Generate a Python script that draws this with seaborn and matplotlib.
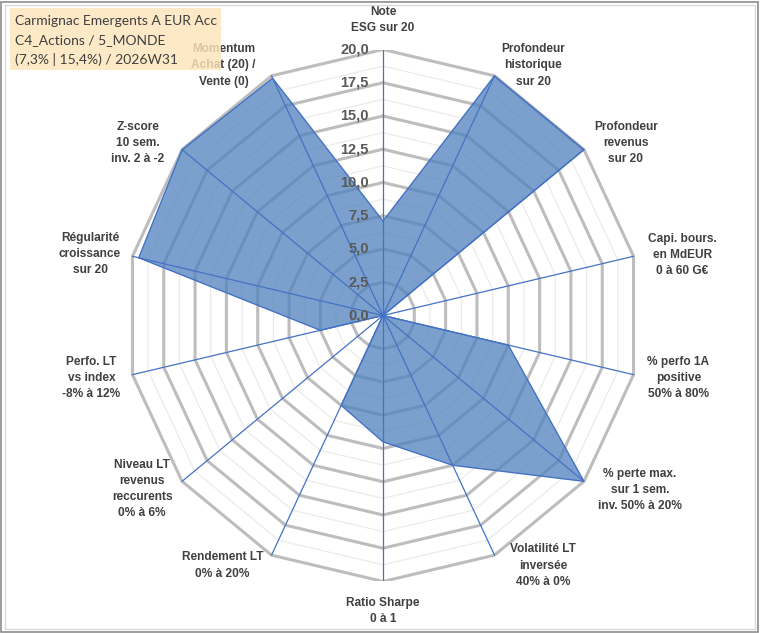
import numpy as np
import pandas as pd
import seaborn as sns
import matplotlib
matplotlib.use("Agg")
import matplotlib.pyplot as plt
from matplotlib.patches import Rectangle

# ---------------- data ----------------
categories = [
    "Note\nESG sur 20",
    "Profondeur\nhistorique\nsur 20",
    "Profondeur\nrevenus\nsur 20",
    "Capi. bours.\nen MdEUR\n0 à 60 G€",
    "% perfo 1A\npositive\n50% à 80%",
    "% perte max.\nsur 1 sem.\ninv. 50% à 20%",
    "Volatilité LT\ninversée\n40% à 0%",
    "Ratio Sharpe\n0 à 1",
    "Rendement LT\n0% à 20%",
    "Niveau LT\nrevenus\nreccurents\n0% à 6%",
    "Perfo. LT\nvs index\n-8% à 12%",
    "Régularité\ncroissance\nsur 20",
    "Z-score\n10 sem.\ninv. 2 à -2",
    "Momentum\nAchat (20) /\nVente (0)",
]
scores = [7.1, 20, 20, 0, 10, 20, 12.5, 9.5, 7.5, 0, 5, 19.5, 20, 19.8]
tick_values = [0, 2.5, 5, 7.5, 10, 12.5, 15, 17.5, 20]
tick_labels = ["0,0", "2,5", "5,0", "7,5", "10,0", "12,5", "15,0", "17,5", "20,0"]
minor_values = [1.25, 3.75, 6.25, 8.75, 11.25, 13.75, 16.25, 18.75]
title_lines = ["Carmignac Emergents A EUR Acc", "C4_Actions / 5_MONDE", "(7,3% | 15,4%) / 2026W31"]

# label centres (data units) for each category
label_pos = [(0, 22.2), (11.7, 18.8), (18.9, 13.0), (23.3, 4.55), (23.0, -4.7),
             (20.0, -13.1), (12.45, -18.8), (0, -22.2), (-12.5, -18.8), (-18.75, -13.05),
             (-22.7, -4.7), (-22.8, 4.6), (-19.1, 13.0), (-12.4, 18.8)]

n = len(categories)
theta = np.arange(n) * 2 * np.pi / n

def xy(r):
    r = np.asarray(r, dtype=float)
    return r * np.sin(theta), r * np.cos(theta)

sns.set_theme(style="white")
plt.rcParams['font.family'] = ['Liberation Sans', 'DejaVu Sans']

fig = plt.figure(figsize=(7.6, 6.33), dpi=100)
ax = fig.add_axes([0.1658, 0.0814, 0.6763, 0.8404])
ax.set_xlim(-20, 20)
ax.set_ylim(-20, 20)
ax.axis("off")

# minor rings
for v in minor_values:
    x, y = xy([v] * n)
    ax.plot(np.append(x, x[0]), np.append(y, y[0]), color="#EBEBEB", lw=0.9, zorder=1)
# major rings
for v in tick_values[1:]:
    x, y = xy([v] * n)
    ax.plot(np.append(x, x[0]), np.append(y, y[0]), color="#BDBDBD", lw=2.2, zorder=2,
            solid_joinstyle="miter")

# data polygon
x, y = xy(scores)
df = pd.DataFrame({"x": np.append(x, x[0]), "y": np.append(y, y[0]), "k": np.arange(n + 1)})
ax.fill(df["x"], df["y"], color="#4F81BD", alpha=0.75, lw=0, zorder=3)
sns.lineplot(data=df, x="x", y="y", sort=False, estimator=None, color="#4472C4", lw=1.0,
             ax=ax, zorder=4)
ax.set_xlim(-20, 20)
ax.set_ylim(-20, 20)
ax.axis("off")

# spokes
xo, yo = xy([20] * n)
for i in range(n):
    ax.plot([0, xo[i]], [0, yo[i]], color="#4472C4", lw=0.9, zorder=5)

# radial tick labels
for v, t in zip(tick_values, tick_labels):
    ax.text(-1.1, v, t, ha="right", va="center", fontsize=10.5, fontweight="bold",
            color="#595959", zorder=6)

# category labels
for lab, (lx, ly) in zip(categories, label_pos):
    ax.text(lx, ly, lab, ha="center", va="center", fontsize=8.6, fontweight="bold",
            color="#404040", linespacing=1.45, clip_on=False, zorder=6)

# title box (semi-transparent, drawn on top)
fig.patches.append(Rectangle((10 / 760, 1 - 70 / 633), 211 / 760, 62 / 633,
                             transform=fig.transFigure, facecolor="#FDE5BA", alpha=0.82,
                             edgecolor="none", zorder=10))
for j, line in enumerate(title_lines):
    fig.text(15 / 760, 1 - (21 + 19.5 * j) / 633, line, ha="left", va="center",
             fontsize=10, family=["Lato", "DejaVu Sans"], color="#404040", zorder=11)

# chart border
fig.patches.append(Rectangle((1 / 760, 1 / 633), 757 / 760, 630 / 633, transform=fig.transFigure,
                             facecolor="none", edgecolor="#8C8C8C", lw=1.2, zorder=12))
fig.patches.append(Rectangle((5 / 760, 4 / 633), 750 / 760, 624 / 633, transform=fig.transFigure,
                             facecolor="none", edgecolor="#D9D9D9", lw=1.0, zorder=12))

fig.savefig("out.png", dpi=100)
